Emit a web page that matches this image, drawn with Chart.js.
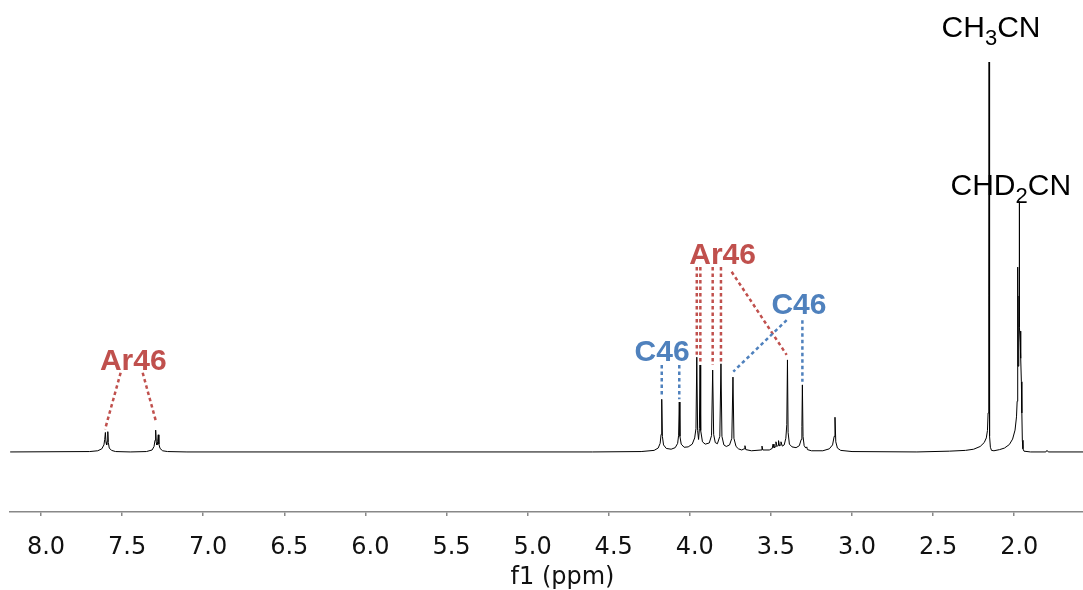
<!DOCTYPE html>
<html>
<head>
<meta charset="utf-8">
<title>1H NMR spectrum</title>
<script src="https://cdn.jsdelivr.net/npm/chart.js@4/dist/chart.umd.min.js"></script>
<style>
  html, body { margin: 0; padding: 0; background: #ffffff; }
  canvas { display: block; }
</style>
</head>
<body>
<canvas id="nmr" width="1083" height="590"></canvas>
<script>
// Axis ticks (ppm)
const tickLabels = ['8.0', '7.5', '7.0', '6.5', '6.0', '5.5', '5.0', '4.5', '4.0', '3.5', '3.0', '2.5', '2.0'];

// Spectrum traces as [ppm, intensity] pairs, high field to the right
const aromaticTrace = [
  [8.19, 0], [7.70, 0.1], [7.65, 0.3], [7.625, 0.8], [7.612, 1.8], [7.607, 3.2],
  [7.603, 5.0], [7.599, 2.4], [7.595, 1.8], [7.591, 2.8], [7.588, 5.2], [7.585, 2.4],
  [7.579, 1.0], [7.565, 0.4], [7.54, 0.1], [7.45, 0], [7.35, 0.1], [7.315, 0.5],
  [7.303, 1.4], [7.297, 3.0], [7.293, 5.6], [7.289, 2.4], [7.285, 1.8], [7.281, 2.6],
  [7.277, 4.4], [7.273, 2.0], [7.266, 0.9], [7.25, 0.3], [7.22, 0.1], [7.10, 0]
];

const midfieldTrace = [
  [4.60, 0], [4.30, 0.1], [4.22, 0.4], [4.195, 1.0], [4.183, 2.2], [4.177, 4.5],
  [4.173, 13.5], [4.169, 4.0], [4.162, 1.8], [4.145, 0.9], [4.115, 0.7], [4.09, 1.1],
  [4.075, 2.2], [4.069, 4.3], [4.065, 12.8], [4.061, 4.0], [4.053, 2.0], [4.035, 1.2],
  [4.01, 1.3], [3.985, 2.0], [3.970, 3.6], [3.962, 6.0], [3.957, 24.3], [3.952, 5.5],
  [3.946, 3.2], [3.941, 6.0], [3.937, 22.3], [3.933, 5.5], [3.922, 2.6], [3.905, 2.0],
  [3.880, 2.3], [3.866, 4.2], [3.859, 21.0], [3.853, 4.5], [3.843, 2.4], [3.830, 2.1],
  [3.815, 4.0], [3.808, 22.6], [3.802, 4.0], [3.790, 1.8], [3.775, 1.4], [3.755, 1.8],
  [3.741, 3.5], [3.734, 19.2], [3.728, 3.5], [3.715, 1.4], [3.700, 0.8], [3.680, 0.5],
  [3.665, 0.8], [3.660, 1.6], [3.655, 0.6], [3.620, 0.3], [3.560, 0.5], [3.555, 1.5],
  [3.550, 0.5], [3.510, 0.5], [3.492, 0.9], [3.487, 2.0], [3.481, 1.1], [3.472, 1.3],
  [3.469, 2.6], [3.462, 1.4], [3.456, 1.7], [3.453, 2.9], [3.447, 1.5], [3.441, 1.8],
  [3.438, 2.6], [3.430, 1.5], [3.418, 1.8], [3.408, 3.5], [3.402, 7.0], [3.398, 23.6],
  [3.394, 5.0], [3.386, 2.0], [3.370, 1.3], [3.345, 1.1], [3.325, 1.6], [3.313, 3.2],
  [3.309, 6.5], [3.306, 17.2], [3.302, 4.0], [3.295, 1.6], [3.285, 1.0], [3.279, 1.3],
  [3.275, 0.6], [3.250, 0.3], [3.180, 0.3], [3.140, 0.8], [3.120, 1.8], [3.110, 4.0],
  [3.105, 8.9], [3.100, 2.6], [3.090, 1.0], [3.070, 0.4], [3.000, 0.1], [2.60, 0]
];

const solventTrace = [
  [2.40, 0.2], [2.30, 0.4], [2.25, 0.7], [2.21, 1.4], [2.185, 2.4], [2.172, 3.6],
  [2.165, 5.5], [2.161, 10.0], [2.158, 11.0], [2.156, 40.0], [2.155, 100.0], [2.153, 30.0],
  [2.151, 4.0], [2.147, 1.2], [2.140, 0.4], [2.125, 0.3], [2.090, 0.6], [2.060, 1.0],
  [2.030, 1.9], [2.010, 3.3], [1.995, 5.6], [1.986, 9.0], [1.982, 13.0], [1.979, 20.0],
  [1.978, 47.4], [1.9765, 22.0], [1.972, 30.0], [1.970, 40.0], [1.969, 64.2], [1.967, 32.0],
  [1.963, 28.0], [1.961, 31.0], [1.959, 24.0], [1.956, 18.0], [1.953, 10.0], [1.950, 3.0],
  [1.946, 0.8], [1.940, 0.2], [1.900, 0], [1.805, 0], [1.798, 0.4], [1.790, 0], [1.576, 0]
];

// Peak assignment labels: text parts ([text, isSubscript]), anchor ppm, baseline level
const peakLabels = [
  { parts: [['Ar46', false]], ppm: 7.431, level: 21.0, color: '#c0504d', bold: true },
  { parts: [['Ar46', false]], ppm: 3.798, level: 48.1, color: '#c0504d', bold: true },
  { parts: [['C46', false]],  ppm: 4.171, level: 23.4, color: '#4f81bd', bold: true },
  { parts: [['C46', false]],  ppm: 3.327, level: 35.4, color: '#4f81bd', bold: true },
  { parts: [['CH', false], ['3', true], ['CN', false]],  ppm: 2.143, level: 106.4, color: '#000000', bold: false },
  { parts: [['CHD', false], ['2', true], ['CN', false]], ppm: 2.021, level: 65.9, color: '#000000', bold: false }
];

// Dotted leaders from each label to its peaks: [ppmFrom, levelFrom, ppmTo, levelTo]
const arLeaders = [
  [7.509, 20.3, 7.605, 5.8], [7.373, 20.3, 7.291, 7.8],
  [3.957, 47.4, 3.957, 24.9], [3.935, 47.4, 3.935, 22.7],
  [3.859, 47.4, 3.859, 22.3], [3.808, 47.4, 3.808, 23.2],
  [3.742, 46.2, 3.403, 24.9]
];
const cLeaders = [
  [4.173, 22.3, 4.173, 14.2], [4.065, 22.3, 4.065, 13.5],
  [3.403, 33.8, 3.732, 20.6], [3.306, 33.8, 3.306, 18.0]
];

const tickValues = tickLabels.map(Number);
const spectrum = aromaticTrace.concat(midfieldTrace, solventTrace).map(([x, y]) => ({ x, y }));

const LABEL_FONT = '"Liberation Sans", Arial, Helvetica, sans-serif';

function drawRichText(ctx, parts, cx, baseY, bold, color) {
  const weight = bold ? 'bold ' : '';
  const mainSize = 30, subSize = 22, subDrop = 8;
  let total = 0;
  const widths = parts.map(([t, sub]) => {
    ctx.font = weight + (sub ? subSize : mainSize) + 'px ' + LABEL_FONT;
    const w = ctx.measureText(t).width;
    total += w;
    return w;
  });
  let x = cx - total / 2;
  ctx.fillStyle = color;
  ctx.textAlign = 'left';
  ctx.textBaseline = 'alphabetic';
  parts.forEach(([t, sub], i) => {
    ctx.font = weight + (sub ? subSize : mainSize) + 'px ' + LABEL_FONT;
    ctx.fillText(t, x, baseY + (sub ? subDrop : 0));
    x += widths[i];
  });
}

const annotationPlugin = {
  id: 'peakAnnotations',
  afterDatasetsDraw(chart) {
    const { ctx, scales } = chart;
    const xs = scales.x, ys = scales.y;
    ctx.save();
    ctx.lineWidth = 2.5;
    ctx.setLineDash([3.5, 3]);
    const drawLeaders = (list, color) => {
      ctx.strokeStyle = color;
      list.forEach(([p1, l1, p2, l2]) => {
        ctx.beginPath();
        ctx.moveTo(xs.getPixelForValue(p1), ys.getPixelForValue(l1));
        ctx.lineTo(xs.getPixelForValue(p2), ys.getPixelForValue(l2));
        ctx.stroke();
      });
    };
    drawLeaders(arLeaders, '#c0504d');
    drawLeaders(cLeaders, '#4f81bd');
    ctx.setLineDash([]);
    peakLabels.forEach(lab => {
      drawRichText(ctx, lab.parts, xs.getPixelForValue(lab.ppm), ys.getPixelForValue(lab.level), lab.bold, lab.color);
    });
    // axis title
    const area = chart.chartArea;
    ctx.font = '24px "DejaVu Sans", Verdana, sans-serif';
    ctx.fillStyle = '#111111';
    ctx.textAlign = 'center';
    ctx.textBaseline = 'alphabetic';
    ctx.fillText('f1 (ppm)', (area.left + area.right) / 2 + 16, 584);
    ctx.restore();
  }
};

new Chart(document.getElementById('nmr'), {
  type: 'line',
  data: {
    datasets: [{
      data: spectrum,
      borderColor: '#000000',
      borderWidth: 1,
      pointRadius: 0,
      tension: 0,
      fill: false
    }]
  },
  options: {
    responsive: false,
    animation: false,
    layout: { padding: { left: 10, right: 0, top: 0, bottom: 0 } },
    plugins: { legend: { display: false }, tooltip: { enabled: false } },
    scales: {
      x: {
        type: 'linear',
        reverse: true,
        min: 1.576,
        max: 8.191,
        afterBuildTicks: (scale) => { scale.ticks = tickValues.map(v => ({ value: v })); },
        afterFit: (scale) => { scale.height = 78; },
        border: { display: true, color: '#888888', width: 1.5 },
        grid: { drawOnChartArea: false, drawTicks: true, tickLength: 4, color: '#888888', lineWidth: 1.5 },
        ticks: {
          color: '#111111',
          font: { family: '"DejaVu Sans", Verdana, sans-serif', size: 24 },
          padding: 17,
          labelOffset: 5,
          maxRotation: 0,
          autoSkip: false,
          callback: (v) => Number(v).toFixed(1)
        },
        title: { display: false }
      },
      y: {
        type: 'linear',
        display: false,
        min: -15.4,
        max: 115.9
      }
    }
  },
  plugins: [annotationPlugin]
});
</script>
</body>
</html>
